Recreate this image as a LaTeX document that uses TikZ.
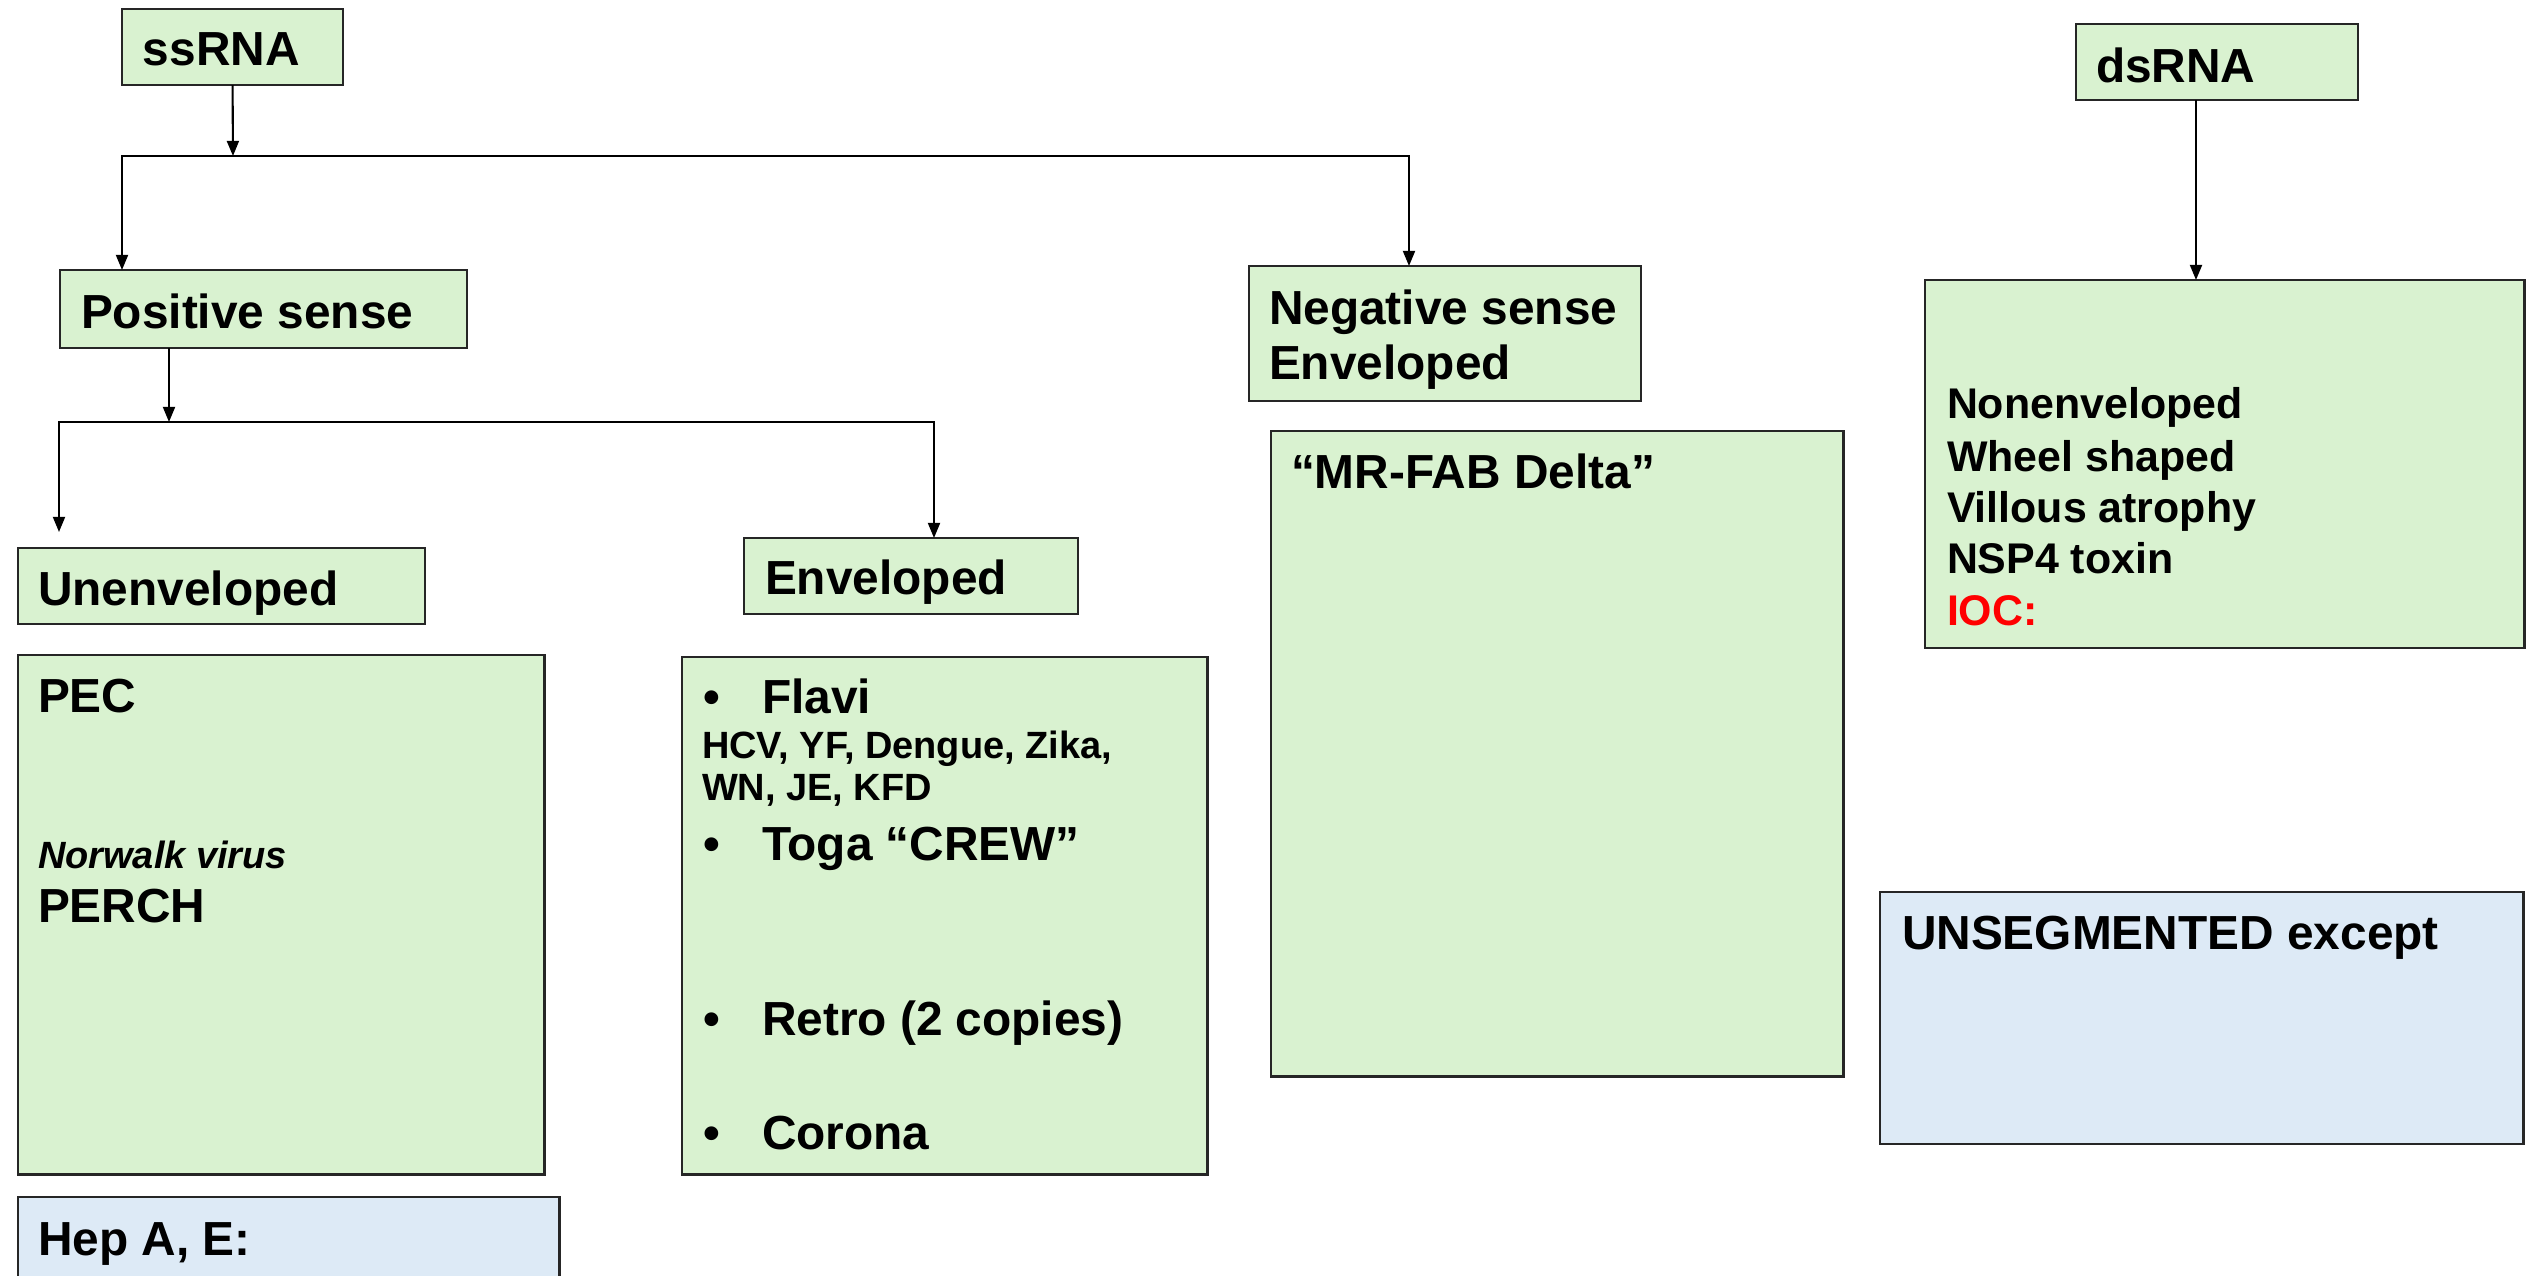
\documentclass[tikz,border=0pt]{standalone}
\usepackage{fontspec}
\setmainfont{Liberation Sans}
\usetikzlibrary{arrows.meta,calc}
\definecolor{gfill}{HTML}{D9F2D0}
\definecolor{bfill}{HTML}{DDEAF6}
\definecolor{iocred}{HTML}{FF0000}
\newcommand\Hfont{\fontsize{13.6pt}{16pt}\selectfont\bfseries}
\newcommand\Bfont{\fontsize{13.6pt}{16pt}\selectfont\bfseries}
\newcommand\Dfont{\fontsize{12.2pt}{14.6pt}\selectfont\bfseries}
\newcommand\Sfont{\fontsize{10.8pt}{12.5pt}\selectfont\bfseries}
\begin{document}
\begin{tikzpicture}[x=0.01cm,y=-0.01cm,
  box/.style={draw=black!85,line width=0.7pt,inner sep=0pt,outer sep=0pt,anchor=north west},
  gbox/.style={box,fill=gfill},
  bbox/.style={box,fill=bfill},
  txt/.style={anchor=base west,inner sep=0pt,outer sep=0pt},
  conn/.style={line width=0.6pt,-{Triangle[length=4.3pt,width=3.4pt]}}]
\clip (0,0) rectangle (2526,1275);
\fill[white] (0,0) rectangle (2526,1275);
% boxes
\node[gbox,minimum width=2.21cm,minimum height=0.76cm] (ss) at (122,9) {};
\node[gbox,minimum width=2.82cm,minimum height=0.76cm] (ds) at (2076,24) {};
\node[gbox,minimum width=4.07cm,minimum height=0.78cm] (pos) at (60,270) {};
\node[gbox,minimum width=3.92cm,minimum height=1.35cm] (neg) at (1249,266) {};
\node[gbox,minimum width=5.99cm,minimum height=3.68cm] (dsb) at (1925,280) {};
\node[gbox,minimum width=4.07cm,minimum height=0.76cm] (unenv) at (18,548) {};
\node[gbox,minimum width=3.34cm,minimum height=0.76cm] (env) at (744,538) {};
\node[gbox,minimum width=5.72cm,minimum height=6.45cm] (mr) at (1271,431) {};
\node[gbox,minimum width=5.26cm,minimum height=5.19cm] (pec) at (18,655) {};
\node[gbox,minimum width=5.25cm,minimum height=5.17cm] (envb) at (682,657) {};
\node[bbox,minimum width=5.41cm,minimum height=0.86cm] (hep) at (18,1197) {};
\node[bbox,minimum width=6.43cm,minimum height=2.52cm] (unseg) at (1880,892) {};
% headings
\node[txt,font=\Hfont] (tss) at (143,65) {ssRNA};
\node[txt,font=\Hfont] (tds) at (2096,82) {dsRNA};
\node[txt,font=\Hfont] (tpos) at (81,328) {Positive sense};
\node[txt,font=\Hfont] (tneg1) at (1269,324) {Negative sense};
\node[txt,font=\Hfont] (tneg2) at (1269,379) {Enveloped};
\node[txt,font=\Hfont] (tunenv) at (38,605) {Unenveloped};
\node[txt,font=\Hfont] (tenv) at (765,594) {Enveloped};
% dsRNA content
\node[txt,font=\Dfont] (d1) at (1947,418) {Nonenveloped};
\node[txt,font=\Dfont] (d2) at (1947,471) {Wheel shaped};
\node[txt,font=\Dfont] (d3) at (1947,522) {Villous atrophy};
\node[txt,font=\Dfont] (d4) at (1947,573) {NSP4 toxin};
\node[txt,font=\Dfont,text=iocred] (d5) at (1947,625) {IOC:};
% MR-FAB
\node[txt,font=\Bfont] (tmr) at (1291,488) {“MR-FAB Delta”};
% unsegmented
\node[txt,font=\Bfont] (tunseg) at (1902,949) {UNSEGMENTED except};
% PEC box
\node[txt,font=\Bfont] (tpec) at (38,712) {PEC};
\node[txt,font=\Sfont\itshape] (tnor) at (38,868) {Norwalk virus};
\node[txt,font=\Bfont] (tperch) at (38,922) {PERCH};
% Hep
\node[txt,font=\Bfont] (thep) at (38,1255) {Hep A, E:};
% enveloped list
\node[txt,font=\Bfont] (b1) at (703,713) {•};
\node[txt,font=\Bfont] (l1) at (762,713) {Flavi};
\node[txt,font=\Sfont] (s1) at (702,758) {HCV, YF, Dengue, Zika,};
\node[txt,font=\Sfont] (s2) at (702,800) {WN, JE, KFD};
\node[txt,font=\Bfont] (b2) at (703,860) {•};
\node[txt,font=\Bfont] (l2) at (762,860) {Toga “CREW”};
\node[txt,font=\Bfont] (b3) at (703,1035) {•};
\node[txt,font=\Bfont] (l3) at (762,1035) {Retro (2 copies)};
\node[txt,font=\Bfont] (b4) at (703,1149) {•};
\node[txt,font=\Bfont] (l4) at (762,1149) {Corona};
% connectors
\coordinate (j1) at (233,156);
\coordinate (j1l) at (122,156);
\coordinate (j1r) at (1409,156);
\draw[conn] (ss.south) -- (j1);
\draw[conn] (j1) -- (j1l) -- (j1l |- pos.north);
\draw[conn] (j1) -- (j1r) -- (j1r |- neg.north);
\coordinate (p0) at ($(pos.south west)+(109,0)$);
\coordinate (j2) at (169,422);
\coordinate (j2l) at (59,422);
\coordinate (j2r) at (934,422);
\draw[conn] (p0) -- (j2);
\draw[conn,shorten >=0.16cm] (j2) -- (j2l) -- (j2l |- unenv.north);
\draw[conn] (j2) -- (j2r) -- (j2r |- env.north);
\coordinate (d0) at ($(ds.south west)+(120,0)$);
\draw[conn] (d0) -- (d0 |- dsb.north);
\end{tikzpicture}
\end{document}
